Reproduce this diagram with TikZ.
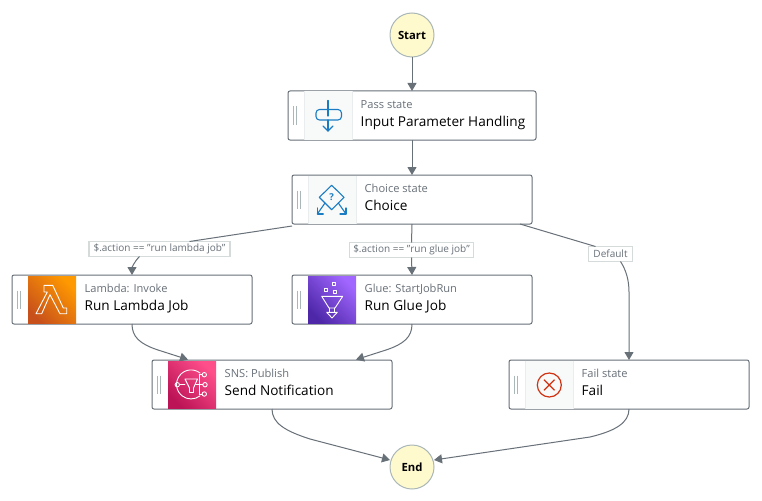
\documentclass[tikz,border=0pt]{standalone}
\usepackage{fontspec}
\setmainfont{Open Sans}
\usetikzlibrary{arrows.meta,calc}
\definecolor{edgegray}{HTML}{687078}
\definecolor{boxgray}{HTML}{687078}
\definecolor{hgray}{HTML}{AAB7B8}
\definecolor{panelbg}{HTML}{F8F9F9}
\definecolor{panelln}{HTML}{EAEDED}
\definecolor{lblln}{HTML}{D5DBDB}
\definecolor{blueic}{HTML}{1A7DC4}
\definecolor{startfill}{HTML}{FFFACD}
\definecolor{lama}{HTML}{C8511B}
\definecolor{lamb}{HTML}{FF9900}
\definecolor{gluea}{HTML}{4D27A8}
\definecolor{glueb}{HTML}{A166FF}
\definecolor{snsa}{HTML}{BC1356}
\definecolor{snsb}{HTML}{FF4F8B}
\definecolor{failred}{HTML}{D13212}
\tikzset{
 x=1pt,y=-1pt,
 statebox/.style={draw=boxgray,fill=white,line width=1pt,rounded corners=2pt,minimum width=240pt,minimum height=49pt,inner sep=0pt,outer sep=0pt,anchor=north west},
 subtxt/.style={text=edgegray,font=\fontsize{11.1}{12}\selectfont,anchor=base west,inner sep=0pt},
 titletxt/.style={text=black,font=\fontsize{13.6}{15}\selectfont,anchor=base west,inner sep=0pt},
 endpoint/.style={circle,draw=hgray,fill=startfill,line width=1pt,minimum size=44pt,inner sep=0pt,outer sep=0pt,font=\bfseries\fontsize{11.3}{12}\selectfont},
 condlbl/.style={draw=lblln,line width=1.3pt,fill=white,text=edgegray,inner sep=0pt,outer sep=0pt,minimum height=15pt,font=\fontsize{10}{11}\selectfont},
 conn/.style={draw=edgegray,line width=1pt,-{Triangle[width=9pt,length=8pt]}},
 connplain/.style={draw=edgegray,line width=1pt},
 handleln/.style={draw=hgray,line width=.9pt},
 iconln/.style={draw=blueic,line width=1.1pt,line cap=round,line join=round},
 wline/.style={draw=white,line width=.9pt,line join=round,line cap=round},
}
% name, x, y, subtitle, title, width
\newcommand{\statebox}[6]{%
 \node[statebox,minimum width=#6pt] (#1) at (#2,#3) {};
 \draw[handleln] (#2+5,#3+15.5) -- (#2+5,#3+34) (#2+8.3,#3+15.5) -- (#2+8.3,#3+34);
 \node[subtxt] (#1sub) at (#2+72.5,#3+17.4) {#4};
 \node[titletxt] (#1title) at (#2+72.5,#3+35.8) {#5};
}
\newcommand{\plainpanel}[2]{%
 \fill[panelbg] (#1+16,#2+.5) rectangle (#1+64,#2+48.5);
 \draw[panelln,line width=1pt] (#1+16,#2+.5) -- (#1+16,#2+48.5) (#1+64,#2+.5) -- (#1+64,#2+48.5);
}
\begin{document}
\begin{tikzpicture}
\useasboundingbox (0,0) rectangle (762,500);
\fill[white] (0,0) rectangle (762,500);

\node[endpoint] (start) at (412,35) {Start};
\node[endpoint] (end) at (412,467) {End};

\statebox{pass}{288}{91}{Pass state}{Input Parameter Handling}{248}
\statebox{choice}{292}{175}{Choice state}{Choice}{240}
\statebox{lambda}{12}{275}{Lambda: Invoke}{Run Lambda Job}{240}
\statebox{glue}{292}{275}{Glue: StartJobRun}{Run Glue Job}{240}
\statebox{sns}{152}{360}{SNS: Publish}{Send Notification}{240}
\statebox{fail}{509}{360}{Fail state}{Fail}{240}

\node[condlbl,minimum width=141pt] (l1) at (159.5,249) {\$.action == "run lambda job"};
\node[condlbl,minimum width=124pt] (l2) at (411.5,250) {\$.action == "run glue job"};
\node[condlbl,minimum width=44pt] (l3) at (610.5,254) {Default};

% connectors
\draw[conn] (start) -- (pass);
\draw[conn] (pass) -- (choice);
\draw[connplain] ([yshift=-2pt]choice.south west) -- ([xshift=30pt]l1.north);
\draw[conn] ([xshift=-20pt]l1.south) .. controls (134,262) and (132,268) .. (lambda.north);
\draw[connplain] (choice.south) -- (l2.north);
\draw[conn] (l2.south) -- (glue.north);
\draw[connplain] ([xshift=-12pt]choice.south east) -- ([xshift=-15pt]l3.north);
\draw[conn] ([xshift=10pt]l3.south) .. controls (626,270) and (629,280) .. (629,292) -- (fail.north);
\draw[conn] (lambda.south) .. controls (132,337) and (140,344) .. (158,350) -- (188,359.6);
\draw[conn] (glue.south) .. controls (412,337) and (404,344) .. (386,350) -- (356,359.6);
\draw[conn] (sns.south) .. controls (272,423) and (285,431) .. (310,439) -- (390,460);
\draw[conn] (fail.south) .. controls (629,423) and (615,431) .. (590,437) -- (434,460);

% panels
\plainpanel{288}{91}
\plainpanel{292}{175}
\plainpanel{509}{360}

% pass icon
\draw[iconln,rounded corners=3.5pt] (316,109.5) rectangle (341.5,120);
\draw[iconln] (328,100.5) -- (328,116) (328,120) -- (328,131);
\draw[iconln] (323,126) -- (328,131) -- (333,126);

% choice icon
\draw[iconln] (331.7,185.3) -- (344,197.3) -- (331.7,209.7) -- (319.3,197.3) -- cycle;
\draw[iconln] (325,203) -- (317.3,214) (338.3,203) -- (346,214);
\draw[iconln] (317.3,208) -- (317.3,214) -- (323.3,214);
\draw[iconln] (346,208) -- (346,214) -- (340,214);
\node[text=blueic,font=\bfseries\fontsize{9.5}{10}\selectfont,inner sep=0pt] (qmark) at (331.7,197) {?};

% lambda panel
\shade[left color=lama,right color=lamb,shading angle=135] (28,276) rectangle (76,323.5);
\draw[wline] (44,285.3) -- (52.7,285.3) -- (63.3,308) -- (66.7,308) -- (66.7,313.7) -- (60,313.7) -- (50,294.7) -- (41.7,313.7) -- (36,313.7) -- (47.3,292) -- (44,292) -- cycle;

% glue panel
\shade[left color=gluea,right color=glueb,shading angle=135] (308,276) rectangle (356,323.5);
\draw[wline] (321.7,296.3) -- (342.7,296.3) -- (335,308) -- (329,308) -- cycle;
\draw[wline] (329.5,308) -- (329.5,312.3) (334.5,308) -- (334.5,312.3);
\draw[wline] (326.7,312.3) -- (332,318) -- (337.3,312.3) -- cycle;
\draw[wline,line width=.8pt] (332.5,282.5) rectangle (335.5,285.5) (324.5,288.5) rectangle (327.5,291.5) (333.5,290) rectangle (336.5,293);

% sns panel
\shade[left color=snsa,right color=snsb,shading angle=135] (168,361) rectangle (216,408.5);
\draw[wline] (200,373) arc[start angle=52,end angle=308,radius=14.5pt];
\draw[wline] (179.5,384.7) -- (185,384.7) (195.5,384.7) -- (203,384.7) (199.3,374.7) -- (199.3,394) (199.3,374.7) -- (202,374.7) (199.3,394) -- (202,394);
\draw[wline] (177.3,384.7) circle[radius=2.2pt] (204.3,374.7) circle[radius=2.2pt] (205,384.7) circle[radius=2.2pt] (204.3,394) circle[radius=2.2pt];
\draw[wline] (185,379) -- (197.5,379) -- (193.5,388) -- (193.5,392.5) -- (189.5,392.5) -- (189.5,388) -- cycle;

% fail icon
\draw[draw=failred,line width=1.2pt] (549.3,385) circle[radius=12pt];
\draw[draw=failred,line width=1.2pt] (544,379.7) -- (554.6,390.3) (554.6,379.7) -- (544,390.3);
\end{tikzpicture}
\end{document}
